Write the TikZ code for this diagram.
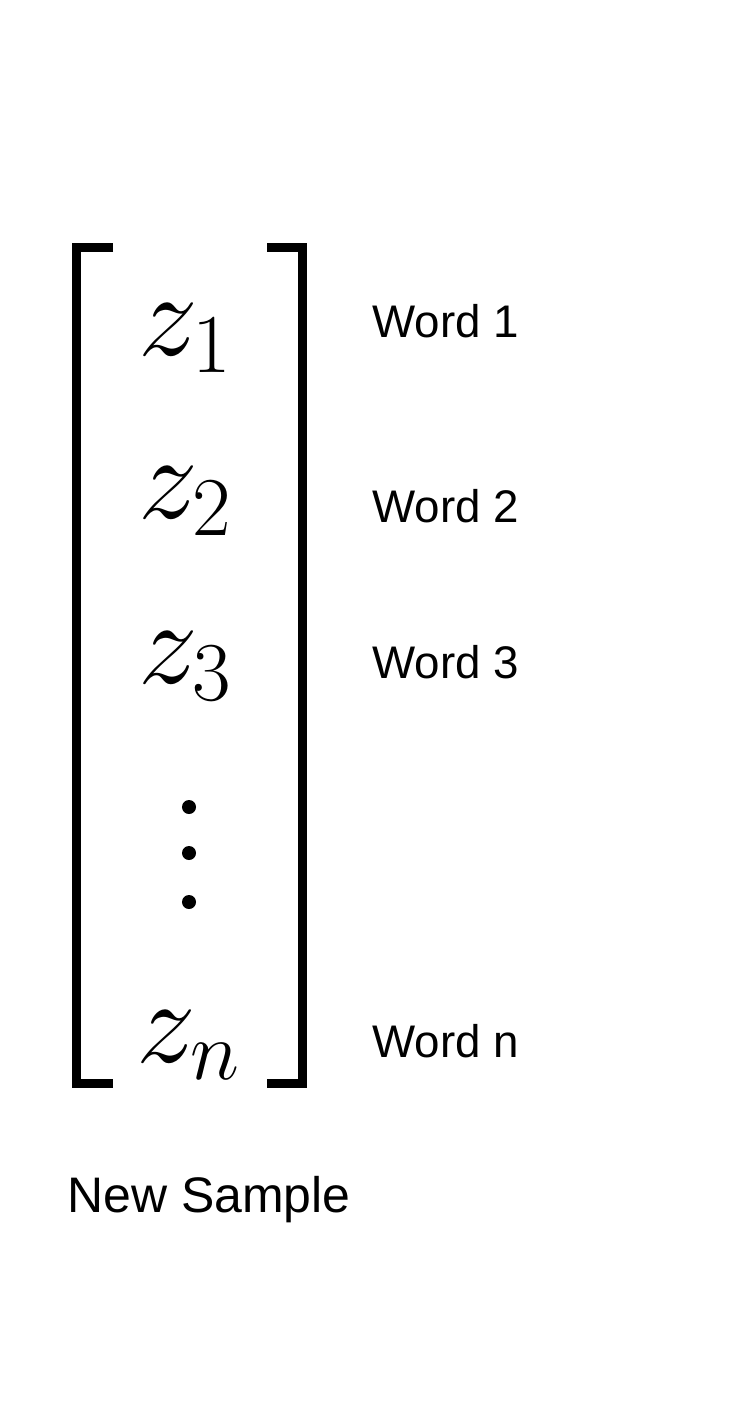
\documentclass[tikz,border=0pt]{standalone}
\usepackage{fix-cm}
\usepackage{amsmath}
\usepackage{fontspec}
\setmainfont{Liberation Sans}
\usepackage{xcolor}

\begin{document}
\begin{tikzpicture}[
    x=0.01cm, y=-0.01cm,
    line width=0.09cm,
    line cap=butt,
    line join=miter,
    entry/.style={anchor=base west, inner sep=0pt, font=\fontsize{34}{40}\selectfont},
    word/.style={anchor=base west, inner sep=0pt, font=\fontsize{13}{15}\selectfont},
    vdot/.style={circle, fill, inner sep=0pt, minimum size=0.14cm}
]
\useasboundingbox (0,0) rectangle (736,1418);
% 1. Brackets
\draw (113,247.5) -- (76.5,247.5) -- (76.5,1083.5) -- (113,1083.5);
\draw (267,247.5) -- (302.5,247.5) -- (302.5,1083.5) -- (267,1083.5);

% 2. Vector entries
\node[entry] (z1) at (134,355) {$z_1$};
\node[entry] (z2) at (134,518) {$z_2$};
\node[entry] (z3) at (134,683) {$z_3$};
\node[vdot] (d1) at (189,807) {};
\node[vdot] (d2) at (189,853) {};
\node[vdot] (d3) at (189,902) {};
\node[entry] (zn) at (132,1062) {$z_n$};

% 3. Words
\node[word] (w1) at (368,337) {Word 1};
\node[word] (w2) at (368,522) {Word 2};
\node[word] (w3) at (368,678) {Word 3};
\node[word] (wn) at (368,1057) {Word n};

% 4. Caption
\node[word, font=\fontsize{14.2}{16}\selectfont] (sample) at (63,1212) {New Sample};
\end{tikzpicture}
\end{document}
